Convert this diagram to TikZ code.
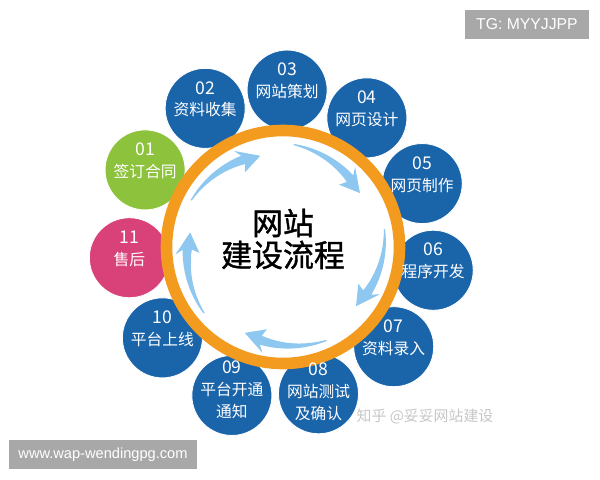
\documentclass[tikz,border=0pt]{standalone}
\usepackage{fontspec}
\setmainfont{Liberation Sans}
\newfontfamily\cjk{Noto Sans CJK SC}
\newfontfamily\cjkheavy[FakeBold=1.2]{Noto Sans CJK SC}
\definecolor{stepblue}{HTML}{1A64AA}
\definecolor{stepgreen}{HTML}{8DC23C}
\definecolor{steppink}{HTML}{D94179}
\definecolor{ringorange}{HTML}{F39B1F}
\definecolor{flowblue}{HTML}{8EC7EF}
\definecolor{tagfill}{HTML}{A8A8A8}
\tikzset{
  stepdisc/.style={circle, minimum size=2cm, inner sep=0pt, draw=white, line width=0.6pt, fill=#1},
  steplabel/.style={text=white, align=center, inner sep=0pt, yshift=#1,
    font=\cjk\fontsize{11.2}{15.5}\selectfont},
  steplabel/.default=6.5pt,
  titletext/.style={align=center, inner sep=0pt, font=\cjkheavy\fontsize{22}{22.7}\selectfont},
  tagbox/.style={fill=tagfill, text=white, inner sep=0pt, minimum height=0.725cm},
}
\newcommand\stepno[1]{{\fontsize{12.5}{15.5}\selectfont #1}}
% one tapered arrow of the inner cycle, #1 = angle of its tail
\newcommand\flowarrow[1]{%
  \fill[flowblue] (#1:103.6)
    \foreach \k in {1,...,12}{ -- ({#1-3.2*\k}:{103.6-0.27*\k}) }
    -- ({#1-36}:{95.8+12}) -- ({#1-49}:94) -- ({#1-36}:{95.8-12})
    \foreach \k in {12,...,1}{ -- ({#1-3.2*\k}:{102.4-0.93*\k}) }
    -- (#1:102.4) -- cycle;}
\begin{document}
\begin{tikzpicture}[x=0.025cm, y=0.025cm]
  \useasboundingbox[fill=white] (-283,-233) rectangle (317,247);
  \path
    (150.8:158) node[stepdisc=stepgreen] (s01) {}
    (119.3:159) node[stepdisc=stepblue] (s02) {}
    (88.5:157) node[stepdisc=stepblue] (s03) {}
    (57:154) node[stepdisc=stepblue] (s04) {}
    (24.5:153) node[stepdisc=stepblue] (s05) {}
    (-8.8:152) node[stepdisc=stepblue] (s06) {}
    (-42:149) node[stepdisc=stepblue] (s07) {}
    (-76.4:151) node[stepdisc=stepblue] (s08) {}
    (-109:157) node[stepdisc=stepblue] (s09) {}
    (-143:151) node[stepdisc=stepblue] (s10) {}
    (-176:154) node[stepdisc=steppink] (s11) {};
  % ring and inner cycle
  \draw[ringorange, fill=white, line width=0.29cm] (0,0) circle (116.5);
  \foreach \a in {153,84,10,-65,-140}
    \flowarrow{\a};
  \node[titletext] (title) at (0,8) {网站\\建设流程};
  % texts of the steps
  \node[steplabel] (t01) at (s01) {\stepno{01}\\签订合同};
  \node[steplabel] (t02) at (s02) {\stepno{02}\\资料收集};
  \node[steplabel] (t03) at (s03) {\stepno{03}\\网站策划};
  \node[steplabel] (t04) at (s04) {\stepno{04}\\网页设计};
  \node[steplabel] (t05) at (s05) {\stepno{05}\\网页制作};
  \node[steplabel] (t06) at (s06) {\stepno{06}\\程序开发};
  \node[steplabel] (t07) at (s07) {\stepno{07}\\资料录入};
  \node[steplabel=1.5pt] (t08) at (s08) {\stepno{08}\\网站测试\\及确认};
  \node[steplabel=4pt] (t09) at (s09) {\stepno{09}\\平台开通\\通知};
  \node[steplabel] (t10) at (s10) {\stepno{10}\\平台上线};
  \node[steplabel] (t11) at (s11) {\stepno{11}\\售后};
  % marks on the picture
  \node[tagbox, minimum width=3.1cm, font=\fontsize{11.2}{13}\selectfont] (tg) at (244,222.5) {TG: MYYJJPP};
  \node[tagbox, minimum width=4.7cm, font=\fontsize{10.4}{13}\selectfont] (site) at (-180,-207.5) {www.wap-wendingpg.com};
  \node[text=black!22, font=\cjk\fontsize{10.6}{13}\selectfont] (zhihu) at (142,-170) {知乎 @妥妥网站建设};
\end{tikzpicture}
\end{document}
